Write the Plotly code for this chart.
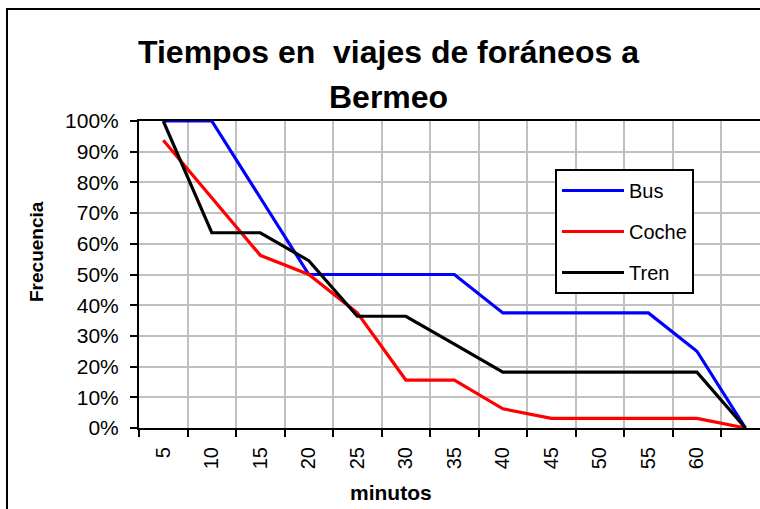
import plotly.graph_objects as go

# Travel time categories (minutes) and their tick labels
minutos = [5, 10, 15, 20, 25, 30, 35, 40, 45, 50, 55, 60, 65]
etiquetas = ["5", "10", "15", "20", "25", "30", "35", "40", "45", "50", "55", "60", ""]

# Cumulative frequency (%) of trips lasting at least each time
bus = [100, 100, 75, 50, 50, 50, 50, 37.5, 37.5, 37.5, 37.5, 25, 0]
coche = [93.75, 75, 56.25, 50, 37.5, 15.625, 15.625, 6.25, 3.125, 3.125, 3.125, 3.125, 0]
tren = [100, 63.6, 63.6, 54.5, 36.4, 36.4, 27.3, 18.2, 18.2, 18.2, 18.2, 18.2, 0]

series = [("Bus", bus, "#0000FF"), ("Coche", coche, "#FF0000"), ("Tren", tren, "#000000")]

FONT = "Arial, Liberation Sans, sans-serif"
cats = [str(m) for m in minutos]

fig = go.Figure()
for name, vals, color in series:
    fig.add_trace(go.Scatter(
        x=cats, y=vals, name=name, mode="lines", legendgroup=name,
        line=dict(color=color, width=3.2),
    ))

W, H = 760, 509
ML, MR, MT, MB = 139, 0, 121, 81
PW, PH = W - ML - MR, H - MT - MB


def px(x):
    return (x - ML) / PW


def py(y):
    return (H - MB - y) / PH


fig.update_layout(
    width=W, height=H,
    margin=dict(l=ML, r=MR, t=MT, b=MB, pad=0),
    paper_bgcolor="white", plot_bgcolor="white",
    font=dict(family=FONT, color="black"),
    showlegend=True,
    legend=dict(
        x=px(555), y=py(169), xanchor="left", yanchor="top",
        bgcolor="white", bordercolor="black", borderwidth=2,
        font=dict(size=20, family=FONT, color="black"),
        tracegroupgap=12, itemwidth=62,
    ),
    xaxis=dict(
        type="category", range=[-0.5, 12.3],
        tickmode="array", tickvals=cats, ticktext=etiquetas,
        tickson="boundaries", tickangle=-90,
        tickfont=dict(size=20, family=FONT, color="black"),
        showgrid=True, gridcolor="#c0c0c0", gridwidth=2,
        showline=True, linecolor="black", linewidth=2, mirror=True,
        ticks="outside", ticklen=7, tickwidth=2, tickcolor="black",
        zeroline=False, ticklabelstandoff=9, fixedrange=True,
    ),
    yaxis=dict(
        range=[0, 100], dtick=10, tick0=0, ticksuffix="%",
        tickfont=dict(size=21, family=FONT, color="black"),
        showgrid=True, gridcolor="#c0c0c0", gridwidth=2,
        showline=True, linecolor="black", linewidth=2,
        ticks="outside", ticklen=7, tickwidth=2, tickcolor="black",
        zeroline=False, ticklabelstandoff=7, fixedrange=True,
    ),
    shapes=[
        dict(type="rect", xref="paper", yref="paper",
             x0=px(7), x1=px(800), y0=py(560), y1=py(9),
             line=dict(color="black", width=2), fillcolor="rgba(0,0,0,0)",
             layer="above"),
    ],
    annotations=[
        dict(text="<b>Tiempos en  viajes de foráneos a</b>", xref="paper", yref="paper",
             x=px(388), y=py(64), xanchor="center", yanchor="bottom", showarrow=False,
             font=dict(size=32, family=FONT, color="black"), yshift=-8),
        dict(text="<b>Bermeo</b>", xref="paper", yref="paper",
             x=px(388), y=py(109), xanchor="center", yanchor="bottom", showarrow=False,
             font=dict(size=32, family=FONT, color="black"), yshift=-8),
        dict(text="<b>Frecuencia</b>", xref="paper", yref="paper",
             x=px(36), y=py(252), xanchor="center", yanchor="middle", showarrow=False,
             textangle=-90, font=dict(size=19, family=FONT, color="black")),
        dict(text="<b>minutos</b>", xref="paper", yref="paper",
             x=px(391), y=py(492), xanchor="center", yanchor="middle", showarrow=False,
             font=dict(size=21, family=FONT, color="black")),
    ],
)

fig.write_html("out.html")
